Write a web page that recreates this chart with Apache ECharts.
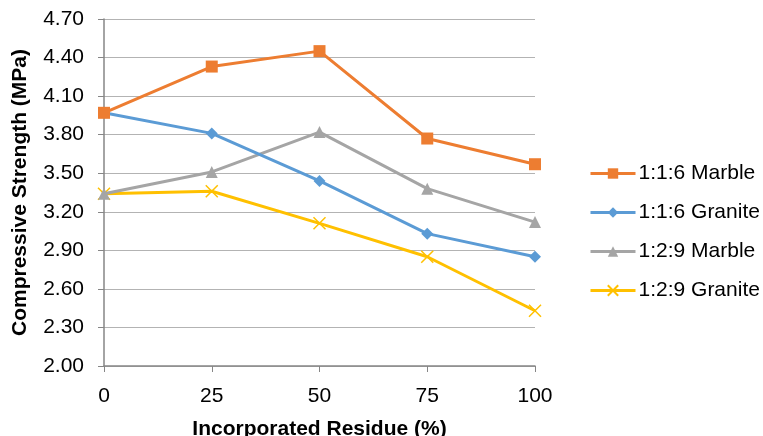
<!DOCTYPE html>
<html>
<head>
<meta charset="utf-8">
<script src="https://cdn.jsdelivr.net/npm/echarts@6/dist/echarts.min.js"></script>
<style>html,body{margin:0;padding:0;background:#fff}#c{width:763px;height:436px}</style>
</head>
<body>
<div id="c"></div>
<script>
const residue = [0, 25, 50, 75, 100];
const marble116 = [3.97, 4.33, 4.45, 3.77, 3.57];
const granite116 = [3.97, 3.81, 3.44, 3.03, 2.85];
const marble129 = [3.34, 3.51, 3.82, 3.38, 3.12];
const granite129 = [3.34, 3.36, 3.11, 2.85, 2.43];
const seriesNames = ['1:1:6 Marble', '1:1:6 Granite', '1:2:9 Marble', '1:2:9 Granite'];
const yBase = 2.00, yTop = 4.70, yStep = 0.30;

const colors = ['#ED7D31', '#5B9BD5', '#A5A5A5', '#FFC000'];
const symbols = ['rect', 'diamond', 'triangle', 'path://M0,0L10,10M10,0L0,10'];
const sizes = [12, 12, 12, 12];
const allData = [marble116, granite116, marble129, granite129];

const chart = echarts.init(document.getElementById('c'));
const font = 'Liberation Sans, Arial, sans-serif';
chart.setOption({
  animation: false,
  textStyle: { fontFamily: font },
  grid: { left: 104, right: 228, top: 19, bottom: 70, containLabel: false, outerBoundsMode: 'none' },
  legend: {
    orient: 'vertical', left: 584, top: 158,
    itemWidth: 45, itemHeight: 13, itemGap: 18,
    lineStyle: { width: 3 },
    textStyle: { fontSize: 21, color: '#000', fontFamily: font, padding: [0, 0, 0, -2] },
    data: seriesNames
  },
  xAxis: {
    type: 'value', min: 0, max: 100, interval: 25,
    name: 'Incorporated Residue (%)', nameLocation: 'middle', nameGap: 53,
    nameTextStyle: { fontSize: 21, fontWeight: 'bold', color: '#000' },
    axisLine: { show: true, lineStyle: { color: '#868686', width: 1.5 } },
    axisTick: { show: true, length: 6, lineStyle: { color: '#868686' } },
    axisLabel: { fontSize: 21, color: '#000', margin: 20 },
    splitLine: { show: false }
  },
  yAxis: {
    type: 'value', min: 0, max: yTop - yBase, interval: yStep,
    name: 'Compressive Strength (MPa)', nameLocation: 'middle', nameGap: 73,
    nameTextStyle: { fontSize: 21, fontWeight: 'bold', color: '#000' },
    axisLine: { show: true, lineStyle: { color: '#868686', width: 1.5 } },
    axisTick: { show: true, length: 6, lineStyle: { color: '#868686' } },
    axisLabel: { fontSize: 21, color: '#000', margin: 20,
      formatter: v => (v + yBase).toFixed(2) },
    splitLine: { show: true, lineStyle: { color: '#b3b3b3', width: 1.2 } }
  },
  series: seriesNames.map((n, i) => ({
    name: n, type: 'line',
    data: residue.map((x, j) => [x, allData[i][j] - yBase]),
    symbol: symbols[i], symbolSize: sizes[i],
    showAllSymbol: true,
    lineStyle: { color: colors[i], width: 3 },
    itemStyle: i === 3 ? { color: colors[i], borderColor: colors[i], borderWidth: 1.5 } : { color: colors[i], borderWidth: 0 },
    z: 10 - i
  }))
});
</script>
</body>
</html>
